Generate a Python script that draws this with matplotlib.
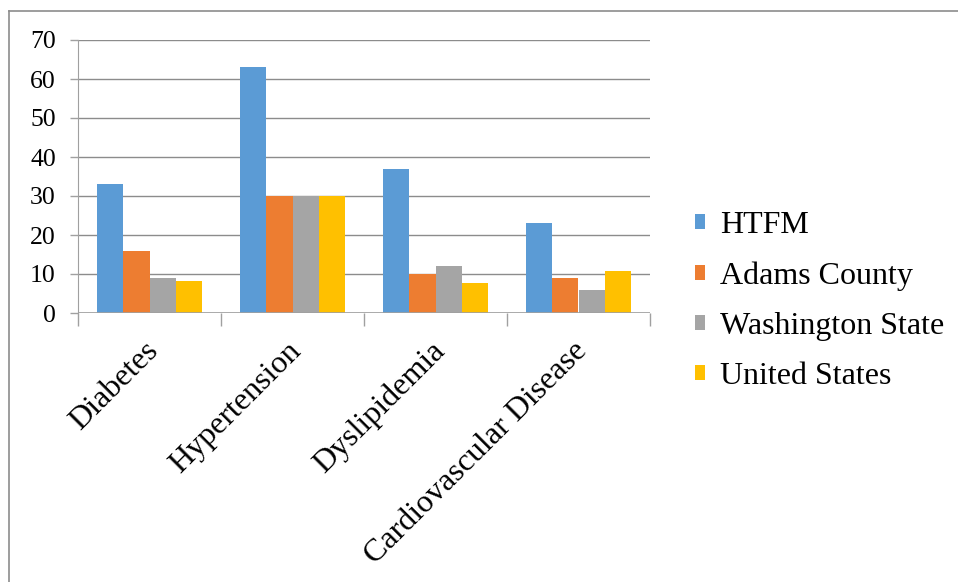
import numpy as np
import matplotlib.pyplot as plt
from matplotlib.lines import Line2D
from matplotlib import font_manager

categories = ["Diabetes", "Hypertension", "Dyslipidemia", "Cardiovascular Disease"]
series_names = ["HTFM", "Adams County", "Washington State", "United States"]
htfm = [33, 63, 37, 23]
adams = [16, 30, 10, 9]
washington = [9, 30, 12, 6]
united_states = [8.3, 30, 7.7, 10.7]
colors = ["#5B9BD5", "#ED7D31", "#A5A5A5", "#FFC000"]

plt.rcParams["font.family"] = "serif"
plt.rcParams["font.serif"] = ["Liberation Serif", "DejaVu Serif"]
serif_path = font_manager.findfont("Liberation Serif")
serif = font_manager.FontProperties(fname=serif_path)

fig = plt.figure(figsize=(9.58, 5.82), dpi=100)
ax = fig.add_axes([78 / 958, 1 - 313 / 582, (650 - 78) / 958, (313 - 40) / 582])

x = np.arange(len(categories))
width = 0.182
all_series = [htfm, adams, washington, united_states]
for i, (vals, name) in enumerate(zip(all_series, series_names)):
    ax.bar(x + (i - 1.5) * width, vals, width, color=colors[i], label=name, zorder=3)

ax.set_xlim(-0.5, len(categories) - 0.5)
ax.set_ylim(0, 70)
ax.set_yticks(range(0, 71, 10))
ax.yaxis.grid(True, color="#8c8c8c", linewidth=1.0, zorder=0)
ax.set_axisbelow(True)

for side in ["top", "right", "bottom"]:
    ax.spines[side].set_visible(False)
ax.spines["left"].set_color("#a0a0a0")
ax.spines["left"].set_bounds(0, 70)

# category boundaries as ticks below the axis
ax.set_xticks(np.arange(-0.5, len(categories), 1.0))
ax.set_xticklabels([])
ax.tick_params(axis="x", length=9, color="#a0a0a0", width=1)
ax.tick_params(axis="y", length=6, color="#a0a0a0", width=1, pad=10)
for lbl in ax.get_yticklabels():
    lbl.set_fontproperties(serif)
    lbl.set_fontsize(18.5)
ax.axhline(0, color="#a0a0a0", linewidth=1.2, zorder=4)

for xi, cat in zip(x, categories):
    ax.text(xi - 0.04, -6, cat, rotation=45, ha="right", va="top",
            rotation_mode="anchor", fontproperties=serif, fontsize=23)

leg = fig.legend(loc="center left", bbox_to_anchor=(666 / 958, 1 - 301 / 582),
                 frameon=False, prop=font_manager.FontProperties(fname=serif_path, size=23),
                 handlelength=0.33, handleheight=0.33,
                 handletextpad=0.45, labelspacing=0.66)

fig.add_artist(Line2D([9 / 958, 9 / 958], [0, 1 - 11 / 582], color="#8c8c8c", linewidth=1.2))
fig.add_artist(Line2D([9 / 958, 1], [1 - 11 / 582, 1 - 11 / 582], color="#8c8c8c", linewidth=1.2))

fig.savefig("out.png", dpi=100)
